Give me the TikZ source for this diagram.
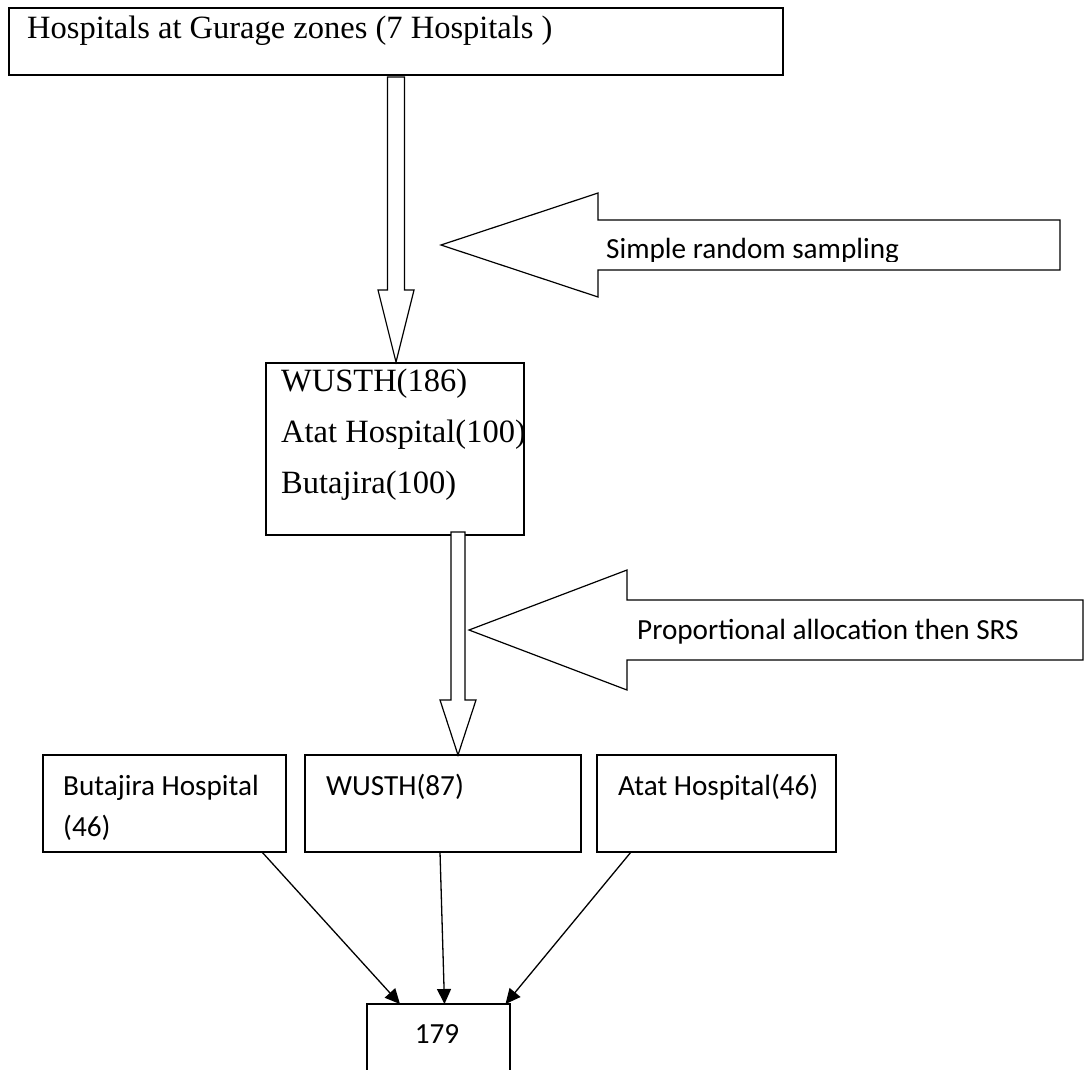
\documentclass[tikz,border=0pt]{standalone}
\usepackage{fontspec}
\setmainfont{Liberation Serif}
\newfontfamily\calibfont{Carlito}
\usetikzlibrary{arrows.meta,calc}
\newcommand{\downblock}[6]{% x, ytop, yhead, ytip, shafthalf, headhalf
  \draw[blk] (#1-#5,#2) -- (#1+#5,#2) -- (#1+#5,#3) -- (#1+#6,#3) -- (#1,#4) -- (#1-#6,#3) -- (#1-#5,#3) -- cycle;}
\newcommand{\leftblock}[6]{% xtip, yc, xback, xend, bodyhalf, headhalf
  \draw[blk] (#1,#2) -- (#3,#2-#6) -- (#3,#2-#5) -- (#4,#2-#5) -- (#4,#2+#5) -- (#3,#2+#5) -- (#3,#2+#6) -- cycle;}
\begin{document}
\begin{tikzpicture}[x=1pt,y=-1pt,
  box/.style={draw,line width=1.6pt,inner sep=0pt,outer sep=0pt,anchor=north west},
  blk/.style={draw,line width=1.2pt,fill=white,line join=miter},
  serif/.style={inner sep=0pt,anchor=base west,font=\fontsize{32.5}{38}\selectfont},
  sans/.style={inner sep=0pt,anchor=base west,font=\calibfont\fontsize{29.2}{35}\selectfont},
  conn/.style={line width=1.3pt,-{Triangle[length=15pt,width=14pt]}}]
\clip (0,0) rectangle (1086,1069);
\fill[white] (0,0) rectangle (1086,1069);
% top box
\node[box,minimum width=774pt,minimum height=67pt] (top) at (9,8) {};
\node[serif] (ttop) at (27,38) {Hospitals at Gurage zones (7 Hospitals )};
% first down block arrow
\downblock{396}{77}{290}{362}{8.5}{18}
% middle box
\node[box,minimum width=258pt,minimum height=172pt] (mid) at (266,363) {};
\node[serif] (m1) at (281,391) {WUSTH(186)};
\node[serif] (m2) at (281,442) {Atat Hospital(100)};
\node[serif] (m3) at (281,493) {Butajira(100)};
% left block arrow 1
\leftblock{441}{245}{598}{1060}{25}{52}
\begin{scope}
  \clip (600,221) rectangle (1058,261);
  \node[sans] (l1) at (606,258) {Simple random sampling};
\end{scope}
% second down block arrow
\downblock{458}{532}{700}{755}{7}{18}
% left block arrow 2
\leftblock{469}{630}{627}{1083}{30}{60}
\node[sans] (l2) at (637,639) {Proportional allocation then SRS};
% bottom boxes
\node[box,minimum width=243pt,minimum height=97pt] (b1) at (43,755) {};
\node[box,minimum width=276pt,minimum height=97pt] (b2) at (305,755) {};
\node[box,minimum width=239pt,minimum height=97pt] (b3) at (597,755) {};
\node[sans] (b1a) at (63,795) {Butajira Hospital};
\node[sans] (b1b) at (63,836) {(46)};
\node[sans] (b2a) at (326,795) {WUSTH(87)};
\node[sans] (b3a) at (618,795) {Atat Hospital(46)};
% final box
\node[box,minimum width=143pt,minimum height=90pt] (fin) at (367,1004) {};
\node[sans,anchor=base] (fint) at (437,1043) {179};
% connectors
\draw[conn] ([xshift=97.5pt]b1.south) -- ([xshift=-38.5pt]fin.north);
\draw[conn] ([xshift=-3pt]b2.south) -- ([xshift=6pt]fin.north);
\draw[conn] ([xshift=-85.5pt]b3.south) -- ([xshift=67pt]fin.north);
\end{tikzpicture}
\end{document}
